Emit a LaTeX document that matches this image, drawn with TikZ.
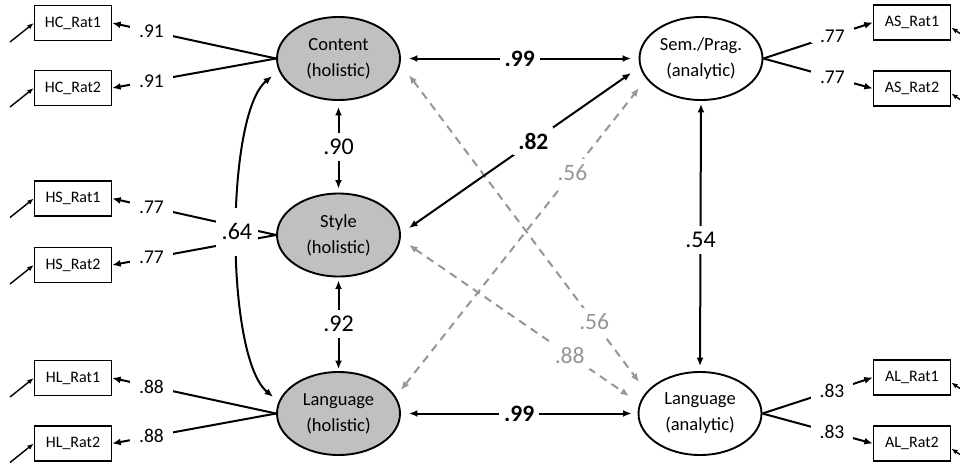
\documentclass[tikz,border=0pt]{standalone}
\usepackage{fontspec}
\setmainfont{Carlito}
\usetikzlibrary{shapes.geometric,arrows.meta}
\definecolor{latfill}{RGB}{192,192,192}
\definecolor{dashgray}{RGB}{150,150,150}
\begin{document}
\begin{tikzpicture}[x=1pt,y=-1pt,
  >={Latex[length=8.5pt,width=7pt]},
  lat/.style={ellipse, draw=black, line width=1.9pt, fill=latfill, minimum width=123pt, minimum height=83pt, inner sep=0pt, align=center, font=\fontsize{18.5}{26}\selectfont},
  latw/.style={lat, fill=white},
  obs/.style={draw=black, line width=1.4pt, minimum width=77pt, minimum height=35pt, inner sep=0pt, font=\fontsize{16}{18}\selectfont},
  solidc/.style={line width=2pt, <->},
  dashc/.style={solidc, draw=dashgray, dash pattern=on 8pt off 6pt},
  loadc/.style={line width=2pt, ->},
  errc/.style={line width=1.4pt, -{Latex[length=6.5pt,width=5pt]}},
  lbl/.style={fill=white, inner xsep=5pt, inner ysep=6pt, font=\fontsize{24}{26}\selectfont},
  lblb/.style={lbl, font=\fontsize{23.5}{26}\selectfont\bfseries},
  lblg/.style={lbl, text=dashgray, font=\fontsize{23.5}{26}\selectfont},
  ldl/.style={fill=white, inner xsep=9pt, inner ysep=1pt, font=\fontsize{19.5}{21}\selectfont}
]
\useasboundingbox (0,0) rectangle (960,463);

% latent variables
\node[lat] (Content) at (338.5,58.5) {Content\\(holistic)};
\node[lat] (Style) at (338.5,235) {Style\\(holistic)};
\node[lat] (Lang) at (338.5,413.5) {Language\\(holistic)};
\node[latw] (Sem) at (701,58.5) {Sem./Prag.\\(analytic)};
\node[latw] (LangA) at (700,413.5) {Language\\(analytic)};

% observed variables
\node[obs] (HC1) at (73,23) {HC\_Rat1};
\node[obs] (HC2) at (73,88) {HC\_Rat2};
\node[obs] (HS1) at (73,198.5) {HS\_Rat1};
\node[obs] (HS2) at (73,265) {HS\_Rat2};
\node[obs] (HL1) at (73,378) {HL\_Rat1};
\node[obs] (HL2) at (73,443.5) {HL\_Rat2};
\node[obs] (AS1) at (912,22.5) {AS\_Rat1};
\node[obs] (AS2) at (912,88.5) {AS\_Rat2};
\node[obs] (AL1) at (912,377.5) {AL\_Rat1};
\node[obs] (AL2) at (912,443.5) {AL\_Rat2};

% error terms
\coordinate (eHC1) at (10,42);
\coordinate (eHC2) at (10,107);
\coordinate (eHS1) at (10,217.5);
\coordinate (eHS2) at (10,284);
\coordinate (eHL1) at (10,397);
\coordinate (eHL2) at (10,462.5);
\coordinate (eAS1) at (974,43);
\coordinate (eAS2) at (974,109);
\coordinate (eAL1) at (974,398);
\coordinate (eAL2) at (974,464);
\foreach \b in {HC1,HC2,HS1,HS2,HL1,HL2}{\draw[errc] (e\b) -- (\b.west);}
\foreach \b in {AS1,AS2,AL1,AL2}{\draw[errc] (e\b) -- ([shift={(0,5)}]\b.east);}

% dashed correlations
\draw[dashc] ([shift={(8,16.5)}]Content.east) -- node[pos=0.805, lblg]{.56} ([shift={(1.5,-31.5)}]LangA.west);
\draw[dashc] ([shift={(8,10)}]Style.east) -- node[pos=0.73, lblg]{.88} ([shift={(-8.5,-17.5)}]LangA.west);
\draw[dashc] ([shift={(0,-23.5)}]Lang.east) -- node[pos=0.72, lblg]{.56} ([shift={(0.5,29.5)}]Sem.west);

% loadings
\draw[loadc] (Content.west) -- node[pos=0.76, ldl]{.91} (HC1.east);
\draw[loadc] (Content.west) -- node[pos=0.76, ldl]{.91} (HC2.east);
\draw[loadc] (Style.west) -- node[pos=0.76, ldl]{.77} (HS1.east);
\draw[loadc] (Style.west) -- node[pos=0.76, ldl]{.77} (HS2.east);
\draw[loadc] (Lang.west) -- node[pos=0.76, ldl]{.88} (HL1.east);
\draw[loadc] (Lang.west) -- node[pos=0.76, ldl]{.88} (HL2.east);
\draw[loadc] (Sem.east) -- node[pos=0.63, ldl]{.77} (AS1.west);
\draw[loadc] (Sem.east) -- node[pos=0.63, ldl]{.77} (AS2.west);
\draw[loadc] (LangA.east) -- node[pos=0.63, ldl]{.83} (AL1.west);
\draw[loadc] (LangA.east) -- node[pos=0.63, ldl]{.83} (AL2.west);

% solid correlations
\draw[solidc, shorten <=6pt, shorten >=4pt] (Content.south) -- node[lbl]{.90} (Style.north);
\draw[solidc, shorten <=3pt, shorten >=2pt] (Style.south) -- node[lbl]{.92} (Lang.north);
\draw[solidc, shorten <=3pt, shorten >=5pt] (Sem.south) -- node[pos=0.515, lbl]{.54} (LangA.north);
\draw[solidc, shorten <=8pt, shorten >=7.5pt] (Content.east) -- node[lblb]{.99} (Sem.west);
\draw[solidc, shorten <=8pt, shorten >=6pt] (Lang.east) -- node[lblb]{.99} (LangA.west);
\draw[solidc] ([shift={(8,-7)}]Style.east) -- node[pos=0.56, lblb]{.82} ([shift={(-7.5,14.5)}]Sem.west);
\draw[solidc] ([shift={(-6,7)}]Content.190) .. controls (225,115) and (225,357) .. node[pos=0.49, lbl, minimum height=48pt, inner xsep=6pt]{.64} ([shift={(-5,-6)}]Lang.170);
\end{tikzpicture}
\end{document}
